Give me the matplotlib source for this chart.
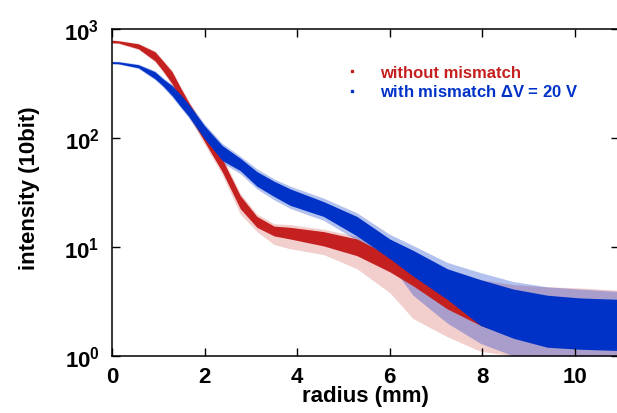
import matplotlib
matplotlib.use('Agg')
import matplotlib.pyplot as plt
from matplotlib.lines import Line2D

plt.rcParams['font.family'] = ['Liberation Sans', 'DejaVu Sans']
plt.rcParams['font.weight'] = 'bold'
plt.rcParams['mathtext.fontset'] = 'custom'
plt.rcParams['mathtext.rm'] = 'Liberation Sans:bold'
plt.rcParams['mathtext.bf'] = 'Liberation Sans:bold'
plt.rcParams['mathtext.it'] = 'Liberation Sans:bold'

radius = [0, 0.14, 0.57, 0.93, 1.1, 1.3, 1.47, 1.65, 2.0, 2.38, 2.77, 3.13,
          3.5, 3.85, 4.57, 5.29, 6.0, 6.5, 7.24, 7.96, 8.67, 9.4, 10.1, 10.95]

# without mismatch (red): dense core and sparse scatter
red_lo = [745, 741, 656, 508, 412, 313, 228, 166, 92, 49, 22.4, 15.1,
          12.6, 11.8, 10.2, 8.3, 5.9, 4.4, 2.7, 1.9, 1.5, 1.35, 1.3, 1.25]
red_hi = [785, 776, 728, 615, 508, 403, 294, 214, 121, 64, 29.5, 19,
          15.5, 15.1, 13.8, 11.8, 8.3, 6.9, 5.0, 3.7, 3.0, 2.7, 2.6, 2.45]
red_out_lo = [735, 730, 645, 495, 400, 300, 220, 158, 87, 46, 20, 13.8,
              10.5, 9.6, 8.5, 6.3, 3.8, 2.2, 1.5, 1.1, 1.0, 1.0, 1.0, 1.0]
red_out_hi = [790, 785, 738, 628, 520, 415, 302, 222, 127, 68, 31, 20,
              16.3, 16, 14.5, 12.5, 8.8, 7.5, 6.0, 5.0, 4.5, 4.3, 4.2, 4.0]

# with mismatch dV = 20 V (blue)
blue_lo = [480, 478, 439, 348, 300, 243, 197, 159, 98, 62, 50, 36,
           29, 24, 19, 12.6, 7.8, 5.4, 3.3, 1.9, 1.45, 1.2, 1.15, 1.12]
blue_hi = [500, 498, 468, 403, 348, 300, 253, 205, 129, 85, 65, 49,
           40, 34, 26, 19, 11.8, 9.3, 6.3, 5.0, 4.1, 3.6, 3.4, 3.3]
blue_out_lo = [476, 474, 432, 340, 292, 236, 191, 154, 94, 59, 47, 34,
               27, 22.5, 17.5, 11.5, 7.0, 3.6, 2.0, 1.3, 1.0, 1.0, 1.0, 1.0]
blue_out_hi = [505, 503, 475, 412, 356, 308, 260, 212, 134, 89, 68, 52,
               42, 36, 28, 20.5, 13, 10.3, 7.2, 5.8, 4.8, 4.3, 4.1, 3.9]

labels = ['without mismatch', r'with mismatch $\Delta$V = 20 V']
red = '#c4201f'
blue = '#0032c8'

fig = plt.figure(figsize=(6.17, 4.14), dpi=100)
ax = fig.add_axes([0.1815, 0.138, 0.821, 0.79])

ax.fill_between(radius, red_out_lo, red_out_hi, color=red, alpha=0.22, lw=0)
ax.fill_between(radius, blue_out_lo, blue_out_hi, color=blue, alpha=0.3, lw=0)
ax.fill_between(radius, red_lo, red_hi, color=red, lw=0)
ax.fill_between(radius, blue_lo, blue_hi, color=blue, lw=0)

ax.set_yscale('log')
ax.set_xlim(0, 10.94)
ax.set_ylim(1, 1000)
ax.set_xticks([0, 2, 4, 6, 8, 10])
ax.set_yticks([1, 10, 100, 1000])
ax.set_yticklabels([r'$10^{0}$', r'$10^{1}$', r'$10^{2}$', r'$10^{3}$'])
ax.minorticks_off()
ax.tick_params(direction='in', length=6, width=1.0, labelsize=16,
               top=True, right=True)
ax.tick_params(axis='x', pad=7)
ax.tick_params(axis='y', pad=9)
for s in ax.spines.values():
    s.set_linewidth(1.1)

ax.set_xlabel('radius (mm)', fontsize=16, fontweight='bold')
ax.set_ylabel('intensity (10bit)', fontsize=16, fontweight='bold')
ax.xaxis.set_label_coords(0.5, -0.09)
ax.yaxis.set_label_coords(-0.142, 0.515)

handles = [Line2D([], [], ls='none', marker='s', ms=1.5, color=red, mec=red),
           Line2D([], [], ls='none', marker='s', ms=1.5, color=blue, mec=blue)]
ax.legend(handles, labels, loc='upper left', bbox_to_anchor=(0.428, 0.935),
          frameon=False, handlelength=1.0, handletextpad=1.18,
          labelspacing=0.2, labelcolor=[red, blue],
          prop={'weight': 'bold', 'size': 12})

fig.savefig('out.png', dpi=100)
